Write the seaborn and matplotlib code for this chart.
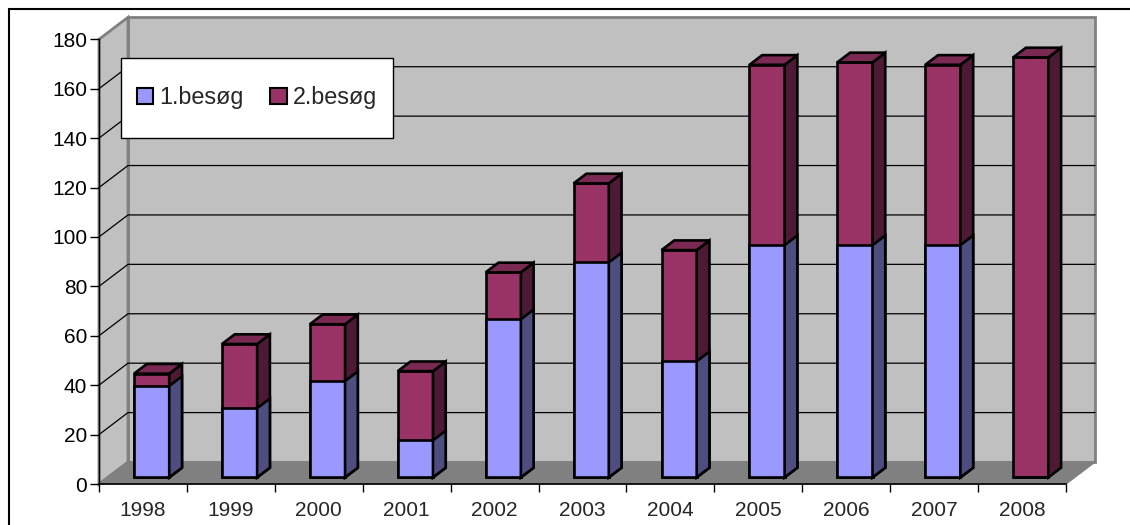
import numpy as np
import pandas as pd
import seaborn as sns
import matplotlib.pyplot as plt
from matplotlib.patches import Polygon, Rectangle, Patch

years = ['1998', '1999', '2000', '2001', '2002', '2003', '2004', '2005', '2006', '2007', '2008']
besog1 = [37, 28, 39, 15, 64, 87, 47, 94, 94, 94, 0]
besog2 = [5, 26, 23, 28, 19, 32, 45, 73, 74, 73, 170]
yticks = list(range(0, 181, 20))

totals = [a + b for a, b in zip(besog1, besog2)]
df = pd.DataFrame({'year': years, 'b1': besog1, 'total': totals})

sns.set_style('ticks')
plt.rcParams['font.family'] = ['Liberation Sans', 'DejaVu Sans']

W, H = 1130, 525
fig = plt.figure(figsize=(W / 100, H / 100), dpi=100)

# front plane of the 3D box in pixels
px0, px1 = 99, 1066
py0, py180 = 484, 39.3
ax = fig.add_axes([px0 / W, 1 - py0 / H, (px1 - px0) / W, (py0 - py180) / H])
ax.set_facecolor('none')

# depth of the box in data units
dx = 29 / ((px1 - px0) / 11)
dy = 22 / ((py0 - py180) / 180)
bar_off = 0.3   # where the bars start in depth
bar_dep = 0.44  # how deep the bars are
lw = 1.9

blue, blue_side = '#9999FF', '#4D4D80'
maroon, maroon_side, maroon_top = '#993366', '#4D1A33', '#7A2952'

sns.barplot(data=df, x='year', y='total', color=maroon, width=0.4, saturation=1,
            edgecolor='black', linewidth=lw, ax=ax, zorder=2)
sns.barplot(data=df, x='year', y='b1', color=blue, width=0.4, saturation=1,
            edgecolor='black', linewidth=lw, ax=ax, zorder=3)

bdx, bdy = bar_dep * dx, bar_dep * dy
for cont, side_c, top_c, z in [(ax.containers[0], maroon_side, maroon_top, 2),
                               (ax.containers[1], blue_side, None, 3)]:
    for p in cont.patches:
        p.set_x(p.get_x() + bar_off * dx)
        p.set_y(p.get_y() + bar_off * dy)
        x, y, w, h = p.get_x(), p.get_y(), p.get_width(), p.get_height()
        if h <= 0:
            continue
        ax.add_patch(Polygon([(x + w, y), (x + w + bdx, y + bdy), (x + w + bdx, y + h + bdy), (x + w, y + h)],
                             closed=True, fc=side_c, ec='black', lw=lw, zorder=z, clip_on=False))
        if top_c:
            ax.add_patch(Polygon([(x, y + h), (x + bdx, y + h + bdy), (x + w + bdx, y + h + bdy), (x + w, y + h)],
                                 closed=True, fc=top_c, ec='black', lw=lw, zorder=z, clip_on=False))

# walls, floor and gridlines
ax.add_patch(Rectangle((-0.5 + dx, dy), 11, 180, fc='#C0C0C0', ec='#808080', lw=2,
                       zorder=0, clip_on=False))
ax.add_patch(Polygon([(-0.5, 0), (-0.5 + dx, dy), (-0.5 + dx, 180 + dy), (-0.5, 180)],
                     closed=True, fc='#C0C0C0', ec='#808080', lw=2, zorder=0, clip_on=False))
for v in yticks[1:-1]:
    ax.plot([-0.5, -0.5 + dx, 10.5 + dx], [v, v + dy, v + dy], color='black', lw=0.9,
            zorder=0.5, clip_on=False)
ax.add_patch(Polygon([(-0.5, 0), (10.5, 0), (10.5 + dx, dy), (-0.5 + dx, dy)],
                     closed=True, fc='#808080', ec='#808080', lw=1, zorder=0.6, clip_on=False))

ax.set_xlim(-0.5, 10.5)
ax.set_ylim(0, 180)
ax.set_xlabel('')
ax.set_ylabel('')
sns.despine(ax=ax)
ax.spines['left'].set_linewidth(1)
ax.spines['bottom'].set_linewidth(1.2)
ax.spines['left'].set_color('black')
ax.spines['bottom'].set_color('black')

ax.set_yticks(yticks)
ax.tick_params(axis='y', length=6.5, width=1, pad=2, labelsize=15, colors='black')
ax.set_xticks(np.arange(-0.5, 11, 1))
ax.set_xticklabels([])
ax.set_xticks(range(len(years)), minor=True)
ax.set_xticklabels(years, minor=True)
ax.tick_params(axis='x', which='major', length=5.8, width=1, colors='black')
ax.tick_params(axis='x', which='minor', length=0, pad=12, labelsize=15)

# legend box
fig.patches.append(Rectangle((121 / W, 1 - 137.7 / H), (393.3 - 121) / W, 80 / H,
                             transform=fig.transFigure, fc='white', ec='black', lw=1, zorder=4))
handles = [Patch(fc=blue, ec='black', lw=1.5, label='1.besøg'),
           Patch(fc=maroon, ec='black', lw=1.5, label='2.besøg')]
fig.legend(handles=handles, loc='center', bbox_to_anchor=(257 / W, 1 - 97.7 / H), ncol=2,
           frameon=False, fontsize=16.8, handlelength=0.7, handleheight=0.7,
           handletextpad=0.25, columnspacing=1.15).set_zorder(5)

# outer chart frame
fig.patches.append(Rectangle((9 / W, -0.1), 1.2, 1.1 - 9.3 / H, transform=fig.transFigure,
                             fill=False, ec='black', lw=1.5, zorder=4))

fig.savefig('out.png', dpi=100)
